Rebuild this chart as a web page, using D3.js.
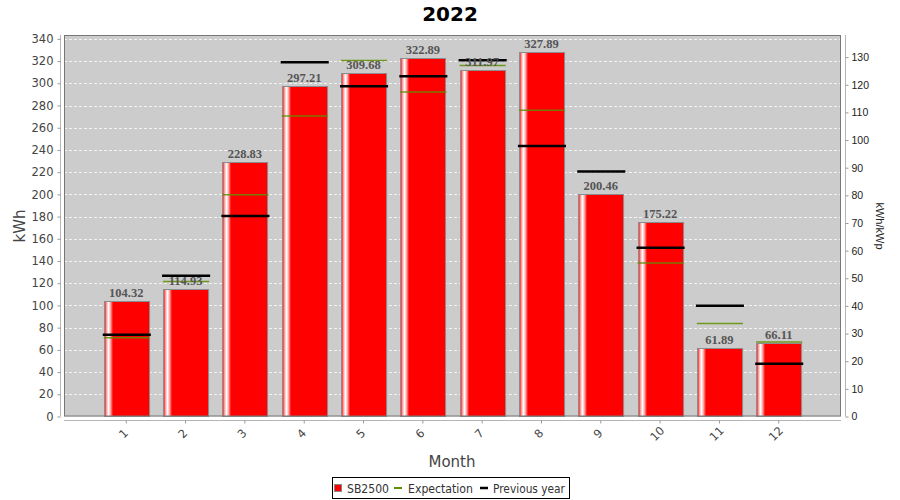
<!DOCTYPE html>
<html>
<head>
<meta charset="utf-8">
<script src="https://cdn.jsdelivr.net/npm/d3@7"></script>
<style>
  html, body { margin: 0; padding: 0; background: #fff; }
  svg { display: block; }
</style>
</head>
<body>
<svg id="chart" width="900" height="500"></svg>
<script>
const months = ["1","2","3","4","5","6","7","8","9","10","11","12"];
const production = [104.32, 114.93, 228.83, 297.21, 309.68, 322.89, 311.97, 327.89, 200.46, 175.22, 61.89, 66.11];
const expectation = [71, 121.6, 199.7, 270.6, 320.5, 292.2, 316, 275.7, null, 138.2, 83.8, 67];
const previousYear = [73.6, 126.8, 180.5, 318.9, 297.3, 306.3, 320.7, 243.6, 220.5, 152, 99.7, 47.5];
const leftTicks = d3.range(0, 341, 20);
const rightTicks = d3.range(0, 131, 10);
const seriesNames = ["SB2500", "Expectation", "Previous year"];

const svg = d3.select("#chart");
const plot = {x0: 64, x1: 841, y0: 35, y1: 416.5};

const x = d3.scaleBand().domain(months).range([plot.x0, plot.x1]).paddingInner(0.24).paddingOuter(0.67);
const y = d3.scaleLinear().domain([0, 343.5]).range([plot.y1, plot.y0]);
const y2 = d3.scaleLinear().domain([0, 138]).range([plot.y1, plot.y0]);

const defs = svg.append("defs");
const grad = defs.append("linearGradient").attr("id", "barGrad").attr("x1", "0").attr("x2", "1").attr("y1", "0").attr("y2", "0");
[[0, "#ff0000"], [0.05, "#ffb0b0"], [0.09, "#ffffff"], [0.13, "#ffb0b0"], [0.19, "#ff0000"], [1, "#ff0000"]].forEach(([o, c]) =>
  grad.append("stop").attr("offset", o).attr("stop-color", c));

svg.append("text").attr("x", 450).attr("y", 21).attr("text-anchor", "middle")
  .attr("font-family", "DejaVu Sans").attr("font-weight", "bold").attr("font-size", 20).attr("fill", "#000").text("2022");

svg.append("rect").attr("x", plot.x0).attr("y", plot.y0).attr("width", plot.x1 - plot.x0).attr("height", plot.y1 - plot.y0)
  .attr("fill", "#cccccc");

svg.append("g").selectAll("line").data(leftTicks.filter(d => d > 0)).join("line")
  .attr("x1", plot.x0).attr("x2", plot.x1).attr("y1", d => Math.round(y(d)) + 0.5).attr("y2", d => Math.round(y(d)) + 0.5)
  .attr("stroke", "#f2f2f2").attr("stroke-width", 1).attr("stroke-dasharray", "3,2");

const bw = x.bandwidth();
svg.append("g").selectAll("rect").data(production).join("rect")
  .attr("x", (d, i) => Math.round(x(months[i])) + 0.5)
  .attr("y", d => Math.round(y(d)) + 0.5)
  .attr("width", bw)
  .attr("height", d => plot.y1 - Math.round(y(d)) - 0.5)
  .attr("fill", "url(#barGrad)").attr("stroke", "#8c8c8c").attr("stroke-width", 1);

svg.append("g").selectAll("line").data(expectation.map((v, i) => ({v, i})).filter(d => d.v != null)).join("line")
  .attr("x1", d => x(months[d.i])).attr("x2", d => x(months[d.i]) + bw + 1)
  .attr("y1", d => y(d.v)).attr("y2", d => y(d.v))
  .attr("stroke", "#5f8f00").attr("stroke-width", 1.5).attr("opacity", 0.85);

svg.append("g").selectAll("line").data(previousYear).join("line")
  .attr("x1", (d, i) => x(months[i]) - 1).attr("x2", (d, i) => x(months[i]) + bw + 2)
  .attr("y1", d => y(d)).attr("y2", d => y(d))
  .attr("stroke", "#000").attr("stroke-width", 2.5);

svg.append("g").selectAll("text").data(production).join("text")
  .attr("x", (d, i) => x(months[i]) + bw / 2)
  .attr("y", d => y(d) - 4)
  .attr("text-anchor", "middle")
  .attr("font-family", "Liberation Serif").attr("font-weight", "bold").attr("font-size", 12.5)
  .attr("fill", "#555").text(d => d.toFixed(2));

svg.append("rect").attr("x", plot.x0 + 0.5).attr("y", plot.y0 + 0.5).attr("width", plot.x1 - plot.x0 - 1).attr("height", plot.y1 - plot.y0 - 1)
  .attr("fill", "none").attr("stroke", "#777").attr("stroke-width", 1);

const leftAxis = svg.append("g").attr("transform", "translate(60.5,0)")
  .call(d3.axisLeft(y).tickValues(leftTicks).tickSize(3).tickPadding(4).tickSizeOuter(0));
leftAxis.select(".domain").attr("stroke", "#b5b5b5").attr("d", `M0,${plot.y0}V${plot.y1}`);
leftAxis.selectAll(".tick line").attr("stroke", "#999");
leftAxis.selectAll(".tick text").attr("font-family", "DejaVu Sans").attr("font-size", 11.5).attr("fill", "#444");

const rightAxis = svg.append("g").attr("transform", "translate(845.5,0)")
  .call(d3.axisRight(y2).tickValues(rightTicks).tickSize(3).tickPadding(3).tickSizeOuter(0));
rightAxis.select(".domain").attr("stroke", "#b5b5b5").attr("d", `M0,${plot.y0}V${plot.y1}`);
rightAxis.selectAll(".tick line").attr("stroke", "#999");
rightAxis.selectAll(".tick text").attr("font-family", "Liberation Sans").attr("font-size", 10.5).attr("fill", "#222");

const xAxis = svg.append("g").attr("transform", "translate(0,420.5)")
  .call(d3.axisBottom(x).tickSize(3).tickSizeOuter(0).tickPadding(0));
xAxis.select(".domain").attr("stroke", "#b5b5b5").attr("d", `M${plot.x0},0H${plot.x1}`);
xAxis.selectAll(".tick line").attr("stroke", "#999");
xAxis.selectAll(".tick text")
  .attr("font-family", "DejaVu Sans").attr("font-size", 11.5).attr("fill", "#444")
  .attr("text-anchor", "middle").attr("dy", null).attr("y", 0)
  .attr("transform", "translate(0,16) rotate(-45)");

svg.append("text").attr("transform", "translate(25,226) rotate(-90)").attr("text-anchor", "middle")
  .attr("font-family", "DejaVu Sans").attr("font-size", 15).attr("fill", "#444").text("kWh");
svg.append("text").attr("transform", "translate(876,226) rotate(90)").attr("text-anchor", "middle")
  .attr("font-family", "Liberation Sans").attr("font-size", 11).attr("fill", "#222").text("kWh/kWp");
svg.append("text").attr("x", 452).attr("y", 467).attr("text-anchor", "middle")
  .attr("font-family", "DejaVu Sans").attr("font-size", 15).attr("fill", "#444").text("Month");

const lg = svg.append("g");
lg.append("rect").attr("x", 332.5).attr("y", 477.5).attr("width", 237).attr("height", 21)
  .attr("fill", "#fff").attr("stroke", "#000").attr("stroke-width", 1);
lg.append("rect").attr("x", 334.5).attr("y", 484.5).attr("width", 7).attr("height", 7)
  .attr("fill", "#ff0000").attr("stroke", "#888");
const legendText = (xx, w, t) => lg.append("text").attr("x", xx).attr("y", 492.5)
  .attr("font-family", "DejaVu Sans").attr("font-size", 11.5).attr("fill", "#333")
  .attr("textLength", w).attr("lengthAdjust", "spacingAndGlyphs").text(t);
legendText(347, 42, seriesNames[0]);
lg.append("line").attr("x1", 394).attr("x2", 402).attr("y1", 488).attr("y2", 488).attr("stroke", "#5f8f00").attr("stroke-width", 2);
legendText(408, 65, seriesNames[1]);
lg.append("line").attr("x1", 480).attr("x2", 488).attr("y1", 488).attr("y2", 488).attr("stroke", "#000").attr("stroke-width", 2.5);
legendText(493, 72, seriesNames[2]);
</script>
</body>
</html>
